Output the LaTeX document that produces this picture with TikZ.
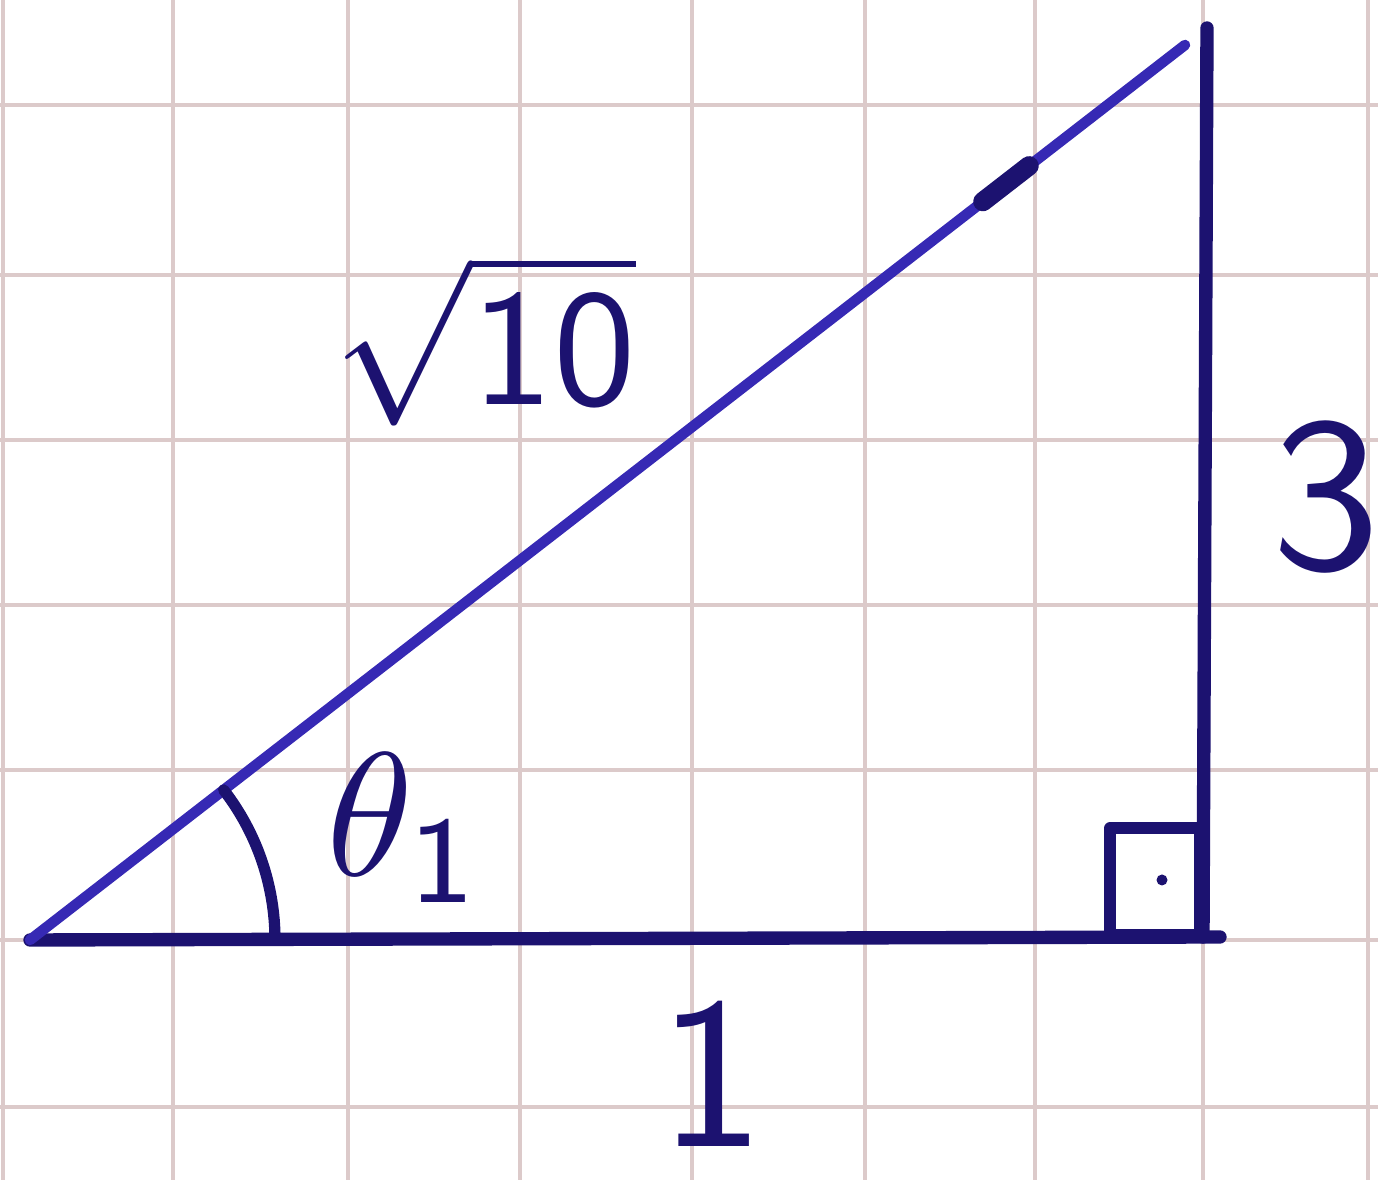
\documentclass[tikz,border=0pt]{standalone}
\usepackage{amsmath}
\usepackage{tikz}
\usetikzlibrary{angles, calc, positioning}
\definecolor{GridPink}{HTML}{DCCACA}
\definecolor{InkNavy}{HTML}{1C1270}
\definecolor{InkBlue}{HTML}{3629B4}

\begin{document}
\begin{tikzpicture}[x=0.1mm, y=0.1mm, line cap=round, line join=round]
        \useasboundingbox (0,0) rectangle (1378,1180);

        % Squared paper
        \foreach \gx in {3,173,348,520,692,865,1035,1203,1368}
            \draw[GridPink, line width=0.9pt] (\gx,0) -- (\gx,1180);
        \foreach \gy in {73,240,410,575,740,905,1075}
            \draw[GridPink, line width=0.9pt] (0,\gy) -- (1378,\gy);

        % Corners of the triangle
        \coordinate (A) at (30,240);
        \coordinate (B) at (1203,243);
        \coordinate (Bx) at (1220,243);
        \coordinate (C) at (1207,1152);
        \coordinate (Ch) at (1185,1135);

        % Sides
        \draw[InkNavy, line width=3.8pt] (A) -- (Bx);
        \draw[InkNavy, line width=3.8pt] (B) -- (C);
        \draw[InkBlue, line width=3pt] (A) -- (Ch);
        \draw[InkNavy, line width=5.5pt] ($(A)!0.825!(Ch)$) -- ($(A)!0.865!(Ch)$);

        % Angle and right angle
        \pic[draw=InkNavy, line width=3.2pt, angle radius=2.45cm] {angle = B--A--Ch};
        \draw[InkNavy, line width=3.2pt] (1110,245) rectangle (1200,352);
        \fill[InkNavy] (1162,300) circle (0.55mm);

        % Labels
        \node[InkNavy, scale=4.7, inner sep=0pt] (hyp) at (485,840) {$\sqrt{\textsf{10}}$};
        \node[InkNavy, scale=5, inner sep=0pt] (ang) at (405,352) {$\theta_{\textsf{1}}$};
        \node[InkNavy, scale=6.2, inner sep=0pt] (opp) at (1326,683) {\textsf{3}};
        \node[InkNavy, scale=6.1, inner sep=0pt] (adj) at (712,106) {\textsf{1}};
\end{tikzpicture}
\end{document}
